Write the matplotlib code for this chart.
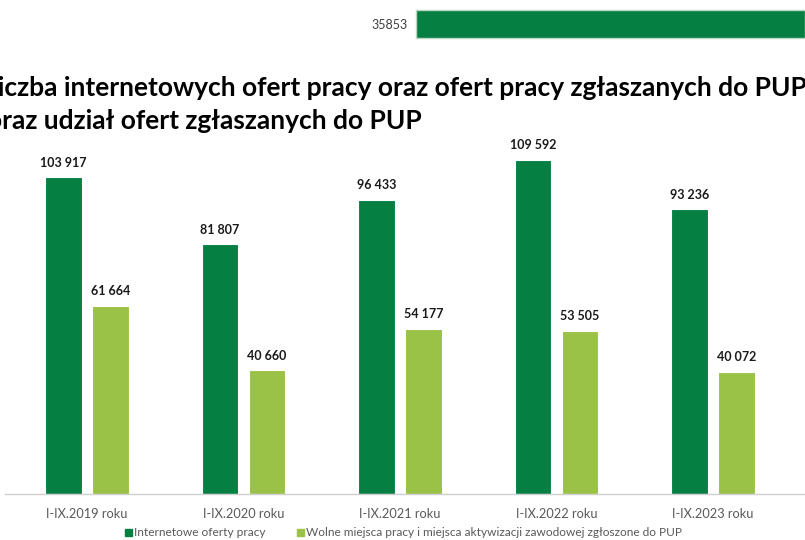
import matplotlib.pyplot as plt
import numpy as np
from matplotlib.patches import Rectangle

plt.rcParams['font.family'] = ['Lato', 'DejaVu Sans']

# data
years = ['I-IX.2019 roku', 'I-IX.2020 roku', 'I-IX.2021 roku', 'I-IX.2022 roku', 'I-IX.2023 roku']
internet_offers = [103917, 81807, 96433, 109592, 93236]
pup_offers = [61664, 40660, 54177, 53505, 40072]
series_names = ['Internetowe oferty pracy',
                'Wolne miejsca pracy i miejsca aktywizacji zawodowej zgłoszone do PUP']
top_value = 35853

dark = '#067F43'
light = '#9AC246'

W, H = 805, 540
fig = plt.figure(figsize=(W / 100, H / 100), dpi=100)

# axes in pixel layout: left 5px, right 805, baseline y=494
ax_left, ax_bottom, ax_top = 5, 494, 140
ax = fig.add_axes([ax_left / W, (H - ax_bottom) / H, (W - ax_left) / W, (ax_bottom - ax_top) / H])

x = np.arange(len(years))
bw = 0.232
off = 0.15
b1 = ax.bar(x - off, internet_offers, bw, color=dark, edgecolor='white', linewidth=0.8)
b2 = ax.bar(x + off, pup_offers, bw, color=light, edgecolor='white', linewidth=0.8)

def fmt(v):
    return f'{v:,}'.replace(',', ' ')

for bars, vals in ((b1, internet_offers), (b2, pup_offers)):
    for r, v in zip(bars, vals):
        ax.annotate(fmt(v), (r.get_x() + r.get_width() / 2, v), xytext=(0, 6),
                    textcoords='offset points', ha='center', va='bottom',
                    fontsize=9, fontweight='bold', color='#1a1a1a')

ax.set_xlim(-82 / 156.5, (W - 87) / 156.5)
ax.set_ylim(0, 1000 * (ax_bottom - ax_top) / 3.052)
ax.set_xticks(x)
ax.set_xticklabels(years, fontsize=9.2, color='#595959')
ax.tick_params(axis='x', length=0, pad=10)
ax.set_yticks([])
for s in ['top', 'right', 'left']:
    ax.spines[s].set_visible(False)
ax.spines['bottom'].set_color('#d0d0d0')
ax.spines['bottom'].set_linewidth(1)

# legend (manual, in pixel coords)
def px(xp, yp):
    return xp / W, 1 - yp / H

for (sx, label, col) in ((128, series_names[0], dark), (300, series_names[1], light)):
    fig.patches.append(Rectangle(px(sx - 3.5, 536), 7 / W, 7 / H, transform=fig.transFigure,
                                 color=col, figure=fig))
    fig.text(*px(sx + 6, 532.5), label, fontsize=8.6, color='#595959', va='center', ha='left')

# title, clipped at the left edge as in the source
fig.text(*px(-16, 96), 'Liczba internetowych ofert pracy oraz ofert pracy zgłaszanych do PUP',
         fontsize=19, fontweight='bold', color='black', ha='left', va='baseline')
fig.text(*px(-13, 129), 'oraz udział ofert zgłaszanych do PUP',
         fontsize=19, fontweight='bold', color='black', ha='left', va='baseline')

# leftover bar from chart above
fig.patches.append(Rectangle(px(416, 38), (W - 416) / W, 28 / H, transform=fig.transFigure,
                             facecolor=dark, edgecolor='#b8d8c4', linewidth=1, figure=fig))
fig.text(*px(408, 25), str(top_value), fontsize=9, color='#404040', ha='right', va='center')

fig.savefig('out.png', dpi=100)
